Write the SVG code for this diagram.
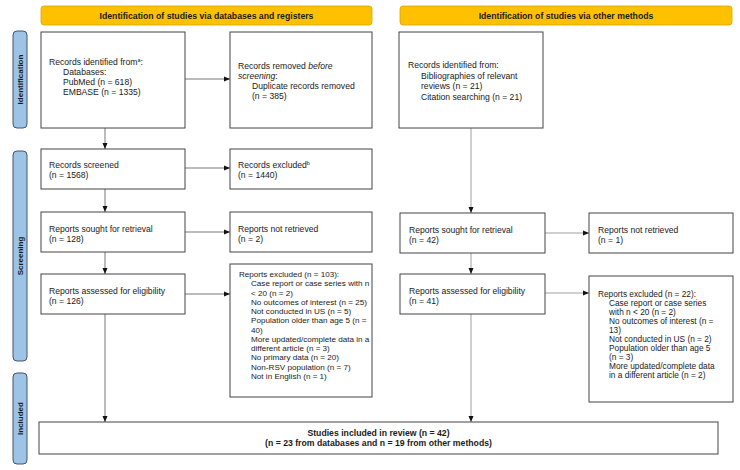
<svg xmlns="http://www.w3.org/2000/svg" width="740" height="470" viewBox="0 0 740 470">
<defs>
<style>
.box{fill:#fff;stroke:#444;stroke-width:1}
.hdr{fill:#FFC000;stroke:#D9A400;stroke-width:0.8}
.side{fill:#9DC3E6;stroke:#44546A;stroke-width:1}
.t{font-family:"Liberation Sans",Arial,sans-serif;font-size:8.6px;fill:#1a1a1a}
.s{font-size:8.3px}
.s2{font-size:8.1px}
.b{font-family:"Liberation Sans",Arial,sans-serif;font-size:8.7px;font-weight:bold;fill:#1a1a1a}
.st{font-family:"Liberation Sans",Arial,sans-serif;font-size:8px;font-weight:bold;fill:#1a1a1a}
.c{stroke:#555;stroke-width:0.8;fill:none;marker-end:url(#ah)}
.c2{stroke:#888;stroke-width:0.8;fill:none;marker-end:url(#ah)}
</style>
<marker id="ah" viewBox="0 0 6 6" refX="6" refY="3" markerWidth="6" markerHeight="6" markerUnits="userSpaceOnUse" orient="auto">
<path d="M0,0.5 L6,3 L0,5.5 Z" fill="#111"/>
</marker>
</defs>

<g id="header-left"><rect class="hdr" x="41" y="6" width="331" height="19" rx="3"/><text class="b" x="206.5" y="18.8" text-anchor="middle">Identification of studies via databases and registers</text></g>
<g id="header-right"><rect class="hdr" x="400" y="6" width="332" height="19" rx="3"/><text class="b" x="566" y="18.8" text-anchor="middle">Identification of studies via other methods</text></g>

<g id="side-identification"><rect class="side" x="13" y="31" width="14" height="97" rx="4"/><text class="st" transform="translate(23,79.5) rotate(-90)" text-anchor="middle">Identification</text></g>
<g id="side-screening"><rect class="side" x="13" y="151" width="14" height="210" rx="4"/><text class="st" transform="translate(23,256) rotate(-90)" text-anchor="middle">Screening</text></g>
<g id="side-included"><rect class="side" x="13" y="373" width="14" height="91" rx="4"/><text class="st" transform="translate(23,418.5) rotate(-90)" text-anchor="middle">Included</text></g>

<g id="connectors">
<line class="c" x1="185" y1="79" x2="230" y2="79"/>
<line class="c" x1="105" y1="128" x2="105" y2="149"/>
<line class="c" x1="185" y1="168" x2="230" y2="168"/>
<line class="c" x1="105" y1="189" x2="105" y2="212"/>
<line class="c" x1="185" y1="232" x2="230" y2="232"/>
<line class="c" x1="105" y1="252" x2="105" y2="274"/>
<line class="c" x1="185" y1="294" x2="230" y2="294"/>
<line class="c" x1="105" y1="314" x2="105" y2="422"/>
<line class="c2" x1="471" y1="128" x2="471" y2="213"/>
<line class="c2" x1="545" y1="233" x2="589" y2="233"/>
<line class="c2" x1="471" y1="253" x2="471" y2="274"/>
<line class="c2" x1="545" y1="293" x2="589" y2="293"/>
<line class="c2" x1="471" y1="314" x2="471" y2="422"/>
</g>

<g id="records-identified"><rect class="box" x="41" y="32" width="144" height="96"/>
<text class="t" x="49" y="65">Records identified from<tspan font-size="5.5" dy="-3">a</tspan><tspan dy="3">:</tspan></text>
<text class="t" x="63" y="75">Databases:</text>
<text class="t" x="63" y="85">PubMed (n = 618)</text>
<text class="t" x="63" y="95">EMBASE (n = 1335)</text></g>

<g id="records-removed"><rect class="box" x="230" y="32" width="142" height="96"/>
<text class="t" x="238" y="69">Records removed <tspan font-style="italic">before</tspan></text>
<text class="t" x="238" y="79"><tspan font-style="italic">screening</tspan>:</text>
<text class="t" x="252" y="89">Duplicate records removed</text>
<text class="t" x="252" y="99">(n = 385)</text></g>

<g id="other-identified"><rect class="box" x="399" y="32" width="144" height="96"/>
<text class="t" x="408" y="68">Records identified from:</text>
<text class="t" x="421" y="79">Bibliographies of relevant</text>
<text class="t" x="421" y="89">reviews (n = 21)</text>
<text class="t" x="421" y="100">Citation searching (n = 21)</text></g>

<g id="records-screened"><rect class="box" x="41" y="149" width="144" height="40"/>
<text class="t" x="49" y="168">Records screened</text>
<text class="t" x="49" y="178">(n = 1568)</text></g>

<g id="records-excluded"><rect class="box" x="230" y="149" width="142" height="40"/>
<text class="t" x="238" y="168">Records excluded<tspan font-size="5.5" dy="-3">b</tspan></text>
<text class="t" x="238" y="178">(n = 1440)</text></g>

<g id="sought-left"><rect class="box" x="41" y="212" width="144" height="40"/>
<text class="t" x="49" y="232">Reports sought for retrieval</text>
<text class="t" x="49" y="242">(n = 128)</text></g>

<g id="not-retrieved-left"><rect class="box" x="230" y="212" width="142" height="40"/>
<text class="t" x="238" y="232">Reports not retrieved</text>
<text class="t" x="238" y="242">(n = 2)</text></g>

<g id="sought-right"><rect class="box" x="400" y="213" width="145" height="40"/>
<text class="t" x="409" y="233">Reports sought for retrieval</text>
<text class="t" x="409" y="243">(n = 42)</text></g>

<g id="not-retrieved-right"><rect class="box" x="589" y="213" width="144" height="40"/>
<text class="t" x="598" y="233">Reports not retrieved</text>
<text class="t" x="598" y="243">(n = 1)</text></g>

<g id="assessed-left"><rect class="box" x="41" y="274" width="144" height="40"/>
<text class="t" x="49" y="294">Reports assessed for eligibility</text>
<text class="t" x="49" y="304">(n = 126)</text></g>

<g id="excluded-left"><rect class="box" x="230" y="264" width="142" height="133"/>
<text class="t s2" x="239" y="277">Reports excluded (n = 103):</text>
<text class="t s2" x="251" y="286.2">Case report or case series with n</text>
<text class="t s2" x="251" y="295.5">&lt; 20 (n = 2)</text>
<text class="t s2" x="251" y="304.7">No outcomes of interest (n = 25)</text>
<text class="t s2" x="251" y="314">Not conducted in US (n = 5)</text>
<text class="t s2" x="251" y="323.2">Population older than age 5 (n =</text>
<text class="t s2" x="251" y="332.5">40)</text>
<text class="t s2" x="251" y="341.7">More updated/complete data in a</text>
<text class="t s2" x="251" y="351">different article (n = 3)</text>
<text class="t s2" x="251" y="360.2">No primary data (n = 20)</text>
<text class="t s2" x="251" y="369.5">Non-RSV population (n = 7)</text>
<text class="t s2" x="251" y="378.7">Not in English (n = 1)</text></g>

<g id="assessed-right"><rect class="box" x="400" y="274" width="145" height="40"/>
<text class="t" x="409" y="294">Reports assessed for eligibility</text>
<text class="t" x="409" y="304">(n = 41)</text></g>

<g id="excluded-right"><rect class="box" x="589" y="276" width="144" height="126"/>
<text class="t s" x="598" y="296.5">Reports excluded (n = 22):</text>
<text class="t s" x="609" y="305.5">Case report or case series</text>
<text class="t s" x="609" y="314.5">with n &lt; 20 (n = 2)</text>
<text class="t s" x="609" y="323.5">No outcomes of interest (n =</text>
<text class="t s" x="609" y="332.5">13)</text>
<text class="t s" x="609" y="341.5">Not conducted in US (n = 2)</text>
<text class="t s" x="609" y="350.5">Population older than age 5</text>
<text class="t s" x="609" y="359.5">(n = 3)</text>
<text class="t s" x="609" y="368.5">More updated/complete data</text>
<text class="t s" x="609" y="377.5">in a different article (n = 2)</text></g>

<g id="included"><rect class="box" x="39" y="422" width="679" height="32"/>
<text class="b" x="378.5" y="436" text-anchor="middle">Studies included in review (n = 42)</text>
<text class="b" x="378.5" y="446" text-anchor="middle">(n = 23 from databases and n = 19 from other methods)</text></g>
</svg>
